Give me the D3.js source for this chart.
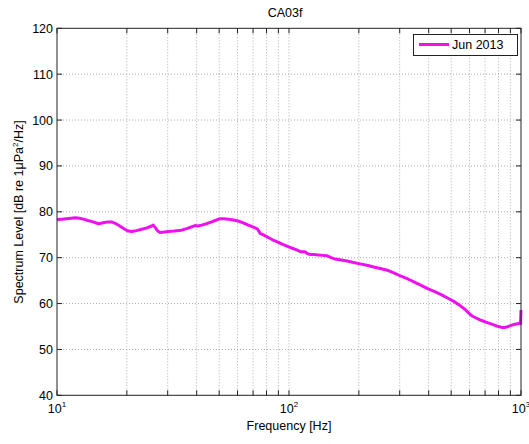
<!DOCTYPE html>
<html><head><meta charset="utf-8">
<script src="https://cdn.jsdelivr.net/npm/d3@7"></script>
<style>body{margin:0;background:#fff;} text{font-family:"Liberation Sans",Arial,sans-serif;fill:#000;}</style>
</head><body>
<svg id="c" width="529" height="444"></svg>
<script>
const title = "CA03f";
const seriesName = "Jun 2013";
const freqs = [10,10.5,11,11.5,12,12.5,13,13.6,14.3,15.1,15.8,16.6,17.2,17.8,18.5,19.6,20.3,21,22,23.2,24.4,25.6,26,26.5,27.2,27.8,29,30.2,32,34.4,36.5,39.3,40.5,42,44,46.4,48.5,50.4,52.5,54.7,57.5,60.4,63.5,66.8,69,71.4,73,75.1,78,81.4,85,89.6,94,99.2,104,108,112,117,120,123,128,134,140,146,152,158,168,180,192,205,219,234,250,268,286,306,327,349,373,398,425,455,487,520,548,575,593,611,643,676,711,748,786,826,855,883,912,942,966,990,995,1000];
const levels = [78.3,78.4,78.5,78.6,78.7,78.6,78.4,78.1,77.8,77.4,77.6,77.8,77.8,77.5,77.0,76.2,75.8,75.7,75.9,76.2,76.5,76.9,77.1,76.6,75.8,75.5,75.6,75.7,75.8,76.0,76.4,77.0,76.9,77.1,77.4,77.8,78.2,78.5,78.5,78.4,78.2,78.0,77.6,77.1,76.8,76.5,76.3,75.3,74.9,74.4,73.9,73.4,72.9,72.4,72.0,71.7,71.3,71.3,70.9,70.7,70.7,70.6,70.5,70.4,70.0,69.7,69.5,69.2,68.9,68.6,68.3,67.9,67.6,67.2,66.6,65.9,65.3,64.6,63.9,63.2,62.6,61.9,61.1,60.3,59.5,58.7,58.0,57.4,56.8,56.3,55.9,55.5,55.1,54.8,54.8,55.0,55.3,55.5,55.6,55.7,55.6,58.6];
const yTicks = [40,50,60,70,80,90,100,110,120];
const xMajor = [10,100,1000];
const xMinor = [20,30,40,50,60,70,80,90,200,300,400,500,600,700,800,900];

const svg = d3.select("#c");
const L=57, R=521, T=28.3, B=395.3;
const x = d3.scaleLog().domain([10,1000]).range([L,R]);
const y = d3.scaleLinear().domain([40,120]).range([B,T]);
const allX = xMajor.concat(xMinor);

// grid
const g = svg.append("g");
g.selectAll(".gx").data(allX.filter(d=>d>10&&d<1000)).join("line")
 .attr("x1",d=>x(d)).attr("x2",d=>x(d)).attr("y1",T).attr("y2",B)
 .attr("stroke","#999").attr("stroke-width",0.8).attr("stroke-dasharray","1,2");
g.selectAll(".gy").data(yTicks.filter(d=>d>40&&d<120)).join("line")
 .attr("y1",d=>y(d)).attr("y2",d=>y(d)).attr("x1",L).attr("x2",R)
 .attr("stroke","#999").attr("stroke-width",0.8).attr("stroke-dasharray","1,2");

// ticks inward
const tk = svg.append("g").attr("stroke","#222").attr("stroke-width",1);
allX.forEach(d=>{
  tk.append("line").attr("x1",x(d)).attr("x2",x(d)).attr("y1",B).attr("y2",B-5);
  tk.append("line").attr("x1",x(d)).attr("x2",x(d)).attr("y1",T).attr("y2",T+5);
});
yTicks.forEach(d=>{
  tk.append("line").attr("x1",L).attr("x2",L+5).attr("y1",y(d)).attr("y2",y(d));
  tk.append("line").attr("x1",R).attr("x2",R-5).attr("y1",y(d)).attr("y2",y(d));
});

// data line
const line = d3.line().x((d,i)=>x(freqs[i])).y(d=>y(d));
svg.append("path").datum(levels).attr("d",line)
 .attr("fill","none").attr("stroke","#ee11ee").attr("stroke-width",3).attr("stroke-linejoin","round");

// box
svg.append("rect").attr("x",L).attr("y",T).attr("width",R-L).attr("height",B-T)
 .attr("fill","none").attr("stroke","#222").attr("stroke-width",1);

// y labels
svg.selectAll(".yl").data(yTicks).join("text")
 .attr("x",53).attr("y",d=>y(d)+4.5).attr("text-anchor","end").attr("font-size",12.5).text(d=>d);

// x labels
xMajor.forEach(d=>{
  const t = svg.append("text").attr("x",x(d)).attr("y",412.5).attr("text-anchor","middle").attr("font-size",12.5);
  t.append("tspan").text("10");
  t.append("tspan").attr("dy",-6).attr("font-size",8).text(Math.round(Math.log10(d)));
});

svg.append("text").attr("x",289).attr("y",430).attr("text-anchor","middle").attr("font-size",12.5).text("Frequency [Hz]");
svg.append("text").attr("x",285).attr("y",17).attr("text-anchor","middle").attr("font-size",12.5).text(title);

const yl = svg.append("text").attr("transform","translate(23,212) rotate(-90)").attr("text-anchor","middle").attr("font-size",12.5);
yl.append("tspan").text("Spectrum Level [dB re 1μPa");
yl.append("tspan").attr("dy",-5).attr("font-size",8).text("2");
yl.append("tspan").attr("dy",5).text("/Hz]");

// legend
const lg = svg.append("g");
lg.append("rect").attr("x",413.5).attr("y",34.5).attr("width",104).attr("height",21)
 .attr("fill","#fff").attr("stroke","#222").attr("stroke-width",1);
lg.append("line").attr("x1",419).attr("x2",449).attr("y1",44.5).attr("y2",44.5)
 .attr("stroke","#ee11ee").attr("stroke-width",3);
lg.append("text").attr("x",452).attr("y",49).attr("font-size",12.5).text(seriesName);
</script>
</body></html>
